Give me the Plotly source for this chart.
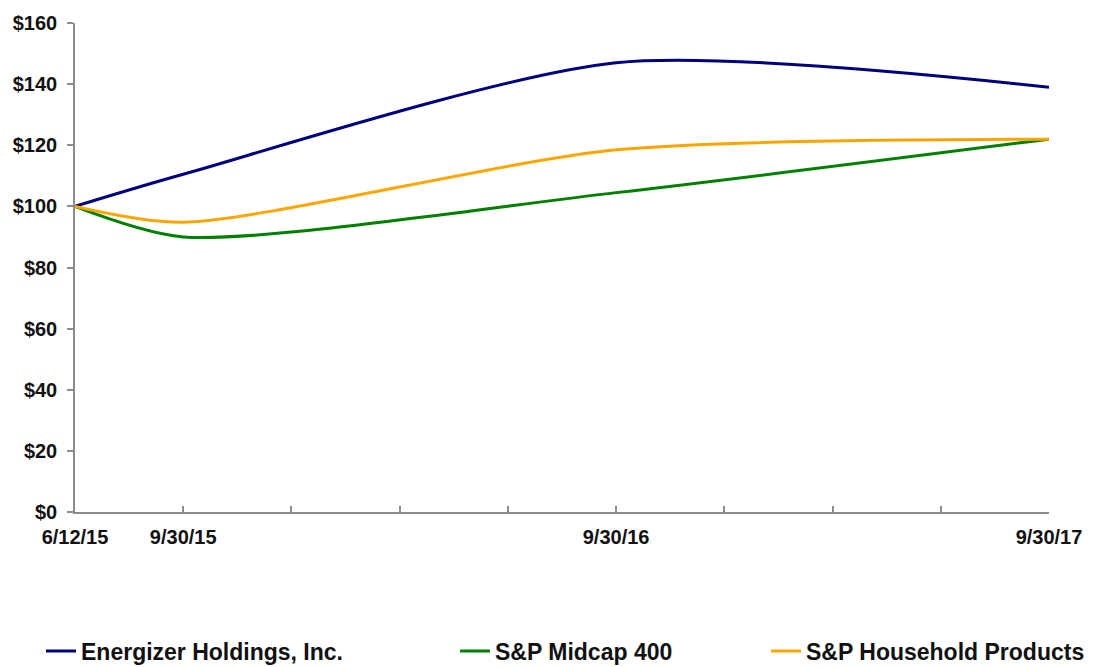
import plotly.graph_objects as go

# category positions (quarterly slots), labels only on data dates
slot_labels = ["6/12/15", "9/30/15", "", "", "", "9/30/16", "", "", "", "9/30/17"]
data_slots = [0, 1, 5, 9]

energizer = [100, 110.5, 147, 139]
midcap = [100, 90, 104.5, 122]
household = [100, 94.8, 118.5, 122]

series = [
    ("Energizer Holdings, Inc.", energizer, "#000080", "legend", 0.0299),
    ("S&P Midcap 400", midcap, "#008000", "legend2", 0.4049),
    ("S&P Household Products", household, "#FFA500", "legend3", 0.6866),
]

fig = go.Figure()
for name, vals, color, leg, _ in series:
    fig.add_trace(go.Scatter(
        x=data_slots, y=vals, name=name, mode="lines",
        line=dict(color=color, width=3, shape="spline", smoothing=0.75),
        legend=leg, hoverinfo="skip",
    ))

FAM = "Liberation Sans, Arial, sans-serif"
font_main = dict(family=FAM, size=20, color="#111111", weight="bold")
legend_font = dict(family=FAM, size=23, color="#111111", weight="bold")

layout_legends = {}
for name, vals, color, leg, lx in series:
    layout_legends[leg] = dict(
        x=lx, y=0.0243, xref="container", yref="container",
        xanchor="left", yanchor="middle",
        orientation="h", font=legend_font, bgcolor="rgba(0,0,0,0)",
    )

# page body has an 8px margin: figure sits at (8, 8)
fig.update_layout(
    width=1104, height=659,
    margin=dict(l=67, r=63, t=15, b=155, autoexpand=False),
    paper_bgcolor="white", plot_bgcolor="white",
    font=font_main,
    showlegend=True,
    **layout_legends,
)

fig.update_xaxes(
    range=[0, 9], tickvals=list(range(len(slot_labels))), ticktext=slot_labels,
    showgrid=False, zeroline=False, showline=True, linecolor="#8c8c8c", linewidth=1.5,
    ticks="inside", ticklen=6, tickcolor="#8c8c8c", tickwidth=1.5,
    tickfont=font_main, automargin=False,
    ticklabelstandoff=6,
)
fig.update_yaxes(
    range=[0, 160], dtick=20, tickprefix="$", tickformat="d",
    showgrid=False, zeroline=False, showline=True, linecolor="#8c8c8c", linewidth=1.5,
    ticks="outside", ticklen=6, tickcolor="#8c8c8c", tickwidth=1.5,
    tickfont=font_main, ticklabelstandoff=6, automargin=False,
)

fig.write_html("out.html")
